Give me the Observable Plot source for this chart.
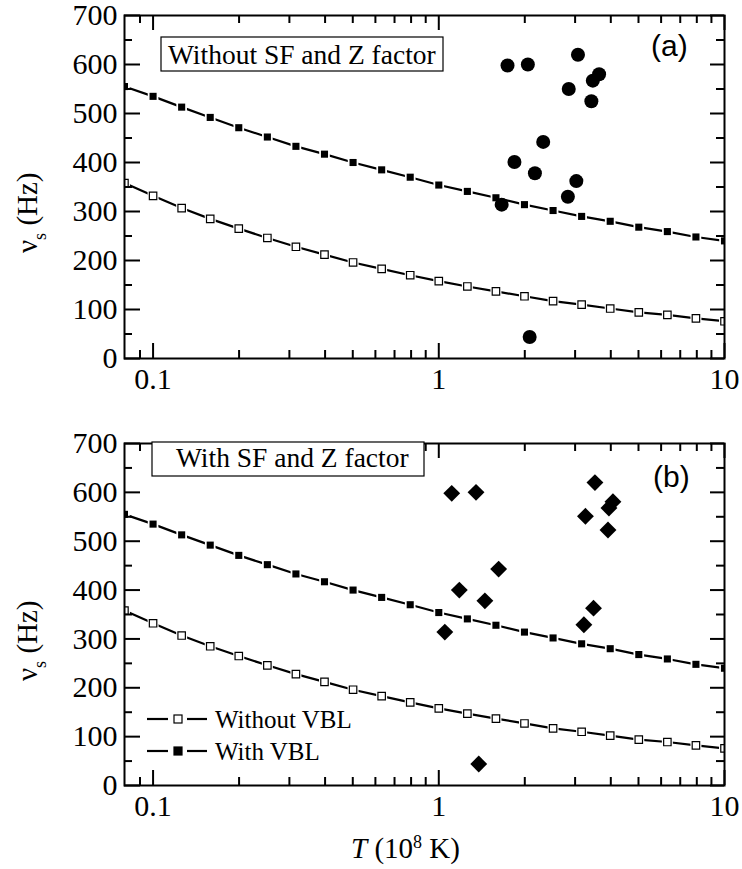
<!DOCTYPE html>
<html><head><meta charset="utf-8">
<script src="https://cdn.jsdelivr.net/npm/d3@7"></script>
<script src="https://cdn.jsdelivr.net/npm/@observablehq/plot@0.6"></script>
<style>
body{margin:0;background:#fff;}
#chart{width:742px;height:869px;}
#chart svg{display:block;}
</style>
</head><body><div id="chart"></div>
<script>
// ---- data ----
const T = [0.0794, 0.1, 0.1259, 0.1585, 0.1995, 0.2512, 0.3162, 0.3981, 0.5012, 0.631, 0.7943, 1, 1.259, 1.585, 1.995, 2.512, 3.162, 3.981, 5.012, 6.31, 7.943, 10];
const withVBL = [555, 535, 513, 492, 471, 452, 433, 417, 400, 385, 370, 354, 341, 328, 314, 302, 290, 280, 268, 259, 248, 240];
const withoutVBL = [358, 332, 307, 285, 265, 246, 228, 212, 196, 183, 170, 158, 147, 137, 127, 117, 110, 102, 94, 89, 82, 76];
const aT = [1.74, 2.05, 3.07, 3.64, 3.46, 2.85, 3.42, 2.32, 1.84, 2.17, 3.03, 2.83, 1.66, 2.08];
const aV = [598, 600, 620, 580, 567, 550, 525, 442, 401, 378, 362, 330, 314, 44];
const bT = [1.11, 1.35, 3.52, 4.07, 3.94, 3.26, 3.91, 1.62, 1.18, 1.45, 3.48, 3.22, 1.05, 1.38];
const bV = [598, 600, 620, 581, 568, 551, 523, 443, 400, 378, 363, 329, 314, 44];
const xMajor = [0.1, 1, 10];
const xTickLabels = ["0.1", "1", "10"];
const xMinor = [0.09, 0.2, 0.3, 0.4, 0.5, 0.6, 0.7, 0.8, 0.9, 2, 3, 4, 5, 6, 7, 8, 9];
const yMajor = [0, 100, 200, 300, 400, 500, 600, 700];
const yTickLabels = ["0", "100", "200", "300", "400", "500", "600", "700"];
const yMinor = [50, 150, 250, 350, 450, 550, 650];
const seriesNames = ["Without VBL", "With VBL"];
const panelTitles = ["Without SF and Z factor", "With SF and Z factor"];
const panelTags = ["(a)", "(b)"];

const serif = "'Liberation Serif', 'Times New Roman', serif";
const sans = "'Liberation Sans', Arial, sans-serif";

const rowsWith = T.map((t, i) => ({t, v: withVBL[i]}));
const rowsWithout = T.map((t, i) => ({t, v: withoutVBL[i]}));

function panel({height, mt, mb, ts, vs, symbol, r}) {
  const W = 742, ml = 124, mr = 18;
  const innerW = W - ml - mr, innerH = height - mt - mb;
  const pts = ts.map((t, i) => ({t, v: vs[i]}));
  const tk = {stroke: "black", strokeWidth: 2};
  const svg = Plot.plot({
    width: W, height, marginLeft: ml, marginRight: mr, marginTop: mt, marginBottom: mb,
    x: {type: "log", domain: [0.0794328, 10], ticks: xMajor, tickSize: 0, tickPadding: 9,
        tickFormat: d => xTickLabels[xMajor.indexOf(d)], label: null},
    y: {domain: [0, 700], ticks: yMajor, tickSize: 0, tickPadding: 7,
        tickFormat: d => yTickLabels[yMajor.indexOf(d)], label: null},
    style: {fontSize: "30px", color: "black", background: "white", overflow: "visible"},
    marks: [
      Plot.line(rowsWithout, {x: "t", y: "v", stroke: "black", strokeWidth: 2.2, clip: true}),
      Plot.line(rowsWith, {x: "t", y: "v", stroke: "black", strokeWidth: 2.2, clip: true}),
      Plot.dot(rowsWithout, {x: "t", y: "v", symbol: "square", r: 6.2, fill: "white", stroke: null, clip: true}),
      Plot.dot(rowsWith, {x: "t", y: "v", symbol: "square", r: 6.0, fill: "white", stroke: null, clip: true}),
      Plot.dot(rowsWithout, {x: "t", y: "v", symbol: "square", r: 4.2, fill: "white", stroke: "black", strokeWidth: 1.2, clip: true}),
      Plot.dot(rowsWith, {x: "t", y: "v", symbol: "square", r: 4.0, fill: "black", stroke: null, clip: true}),
      Plot.dot(pts, {x: "t", y: "v", symbol, r, fill: "black", stroke: null}),
      // inward ticks, four sides
      Plot.tickX(xMajor, {x: d => d, insetTop: innerH - 15, ...tk}),
      Plot.tickX(xMinor, {x: d => d, insetTop: innerH - 8, ...tk}),
      Plot.tickX(xMajor, {x: d => d, insetBottom: innerH - 15, ...tk}),
      Plot.tickX(xMinor, {x: d => d, insetBottom: innerH - 8, ...tk}),
      Plot.tickY(yMajor, {y: d => d, insetRight: innerW - 16, ...tk}),
      Plot.tickY(yMinor, {y: d => d, insetRight: innerW - 8, ...tk}),
      Plot.tickY(yMajor, {y: d => d, insetLeft: innerW - 14, ...tk}),
      Plot.tickY(yMinor, {y: d => d, insetLeft: innerW - 8, ...tk}),
      Plot.frame({stroke: "black", strokeWidth: 2})
    ]
  });
  // force serif font on the axis tick labels
  d3.select(svg).selectAll("text").style("font-family", serif).style("font-size", "30px");
  return svg;
}

function txt(svg, x, y, family, size) {
  return d3.select(svg).append("text").attr("x", x).attr("y", y)
    .attr("text-anchor", "start").style("font-family", family).style("font-size", size + "px")
    .attr("fill", "black");
}

function yLabel(svg, topY) {
  const t = d3.select(svg).append("text")
    .attr("transform", `translate(37,${topY + 238}) rotate(-90)`)
    .attr("text-anchor", "start")
    .style("font-family", serif).style("font-size", "29px").attr("fill", "black");
  t.append("tspan").text("ν");
  t.append("tspan").style("font-size", "18px").attr("dy", 9).text("s");
  t.append("tspan").attr("dy", -9).text(" (Hz)");
}

function box(svg, x, y, w, h, label, tx, ty) {
  d3.select(svg).append("rect").attr("x", x).attr("y", y).attr("width", w).attr("height", h)
    .attr("fill", "white").attr("stroke", "black").attr("stroke-width", 1.2);
  txt(svg, tx, ty, serif, 27.5).text(label);
}

const chart = document.getElementById("chart");

// Panel (a)
const pa = panel({height: 420, mt: 15, mb: 62, ts: aT, vs: aV, symbol: "circle", r: 7});
box(pa, 161, 37, 282, 34, panelTitles[0], 168, 64);
txt(pa, 651, 56, sans, 30).text(panelTags[0]);
yLabel(pa, 15);
chart.appendChild(pa);

// Panel (b)
const pb = panel({height: 449, mt: 23, mb: 84, ts: bT, vs: bV, symbol: "diamond2", r: 7.6});
box(pb, 152, 22, 272, 34, panelTitles[1], 176, 46.7);
txt(pb, 653, 67, sans, 30).text(panelTags[1]);
yLabel(pb, 23);
// x-axis title
{
  const t = txt(pb, 351, 438, serif, 29);
  t.append("tspan").style("font-style", "italic").text("T");
  t.append("tspan").text(" (10");
  t.append("tspan").style("font-size", "18px").attr("dy", -10).text("8");
  t.append("tspan").attr("dy", 10).text(" K)");
}
// legend
{
  const s = d3.select(pb);
  const rowsY = [299, 331];
  rowsY.forEach((cy, i) => {
    s.append("line").attr("x1", 147).attr("x2", 168).attr("y1", cy).attr("y2", cy).attr("stroke", "black").attr("stroke-width", 2.2);
    s.append("line").attr("x1", 187).attr("x2", 207).attr("y1", cy).attr("y2", cy).attr("stroke", "black").attr("stroke-width", 2.2);
    s.append("rect").attr("x", 174).attr("y", cy - 4).attr("width", 8).attr("height", 8)
      .attr("fill", i === 0 ? "white" : "black").attr("stroke", "black").attr("stroke-width", 1.2);
    txt(pb, 215, cy + 9, serif, 25).text(seriesNames[i]);
  });
}
chart.appendChild(pb);
</script>
</body></html>
